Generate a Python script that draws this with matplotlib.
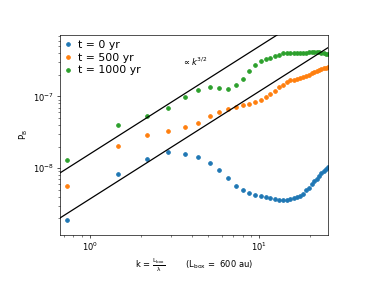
import numpy as np
import matplotlib
matplotlib.use("Agg")
import matplotlib.pyplot as plt

# wavenumber k = Lbox / lambda, one point per mode
n_modes = np.arange(1, 36)
k = 0.728 * n_modes

# magnetic power spectrum at three times
pb_0 = [1.9e-9, 8.4e-9, 1.36e-8, 1.67e-8, 1.60e-8, 1.41e-8, 1.19e-8, 9.3e-9, 7.3e-9, 5.7e-9,
        4.9e-9, 4.5e-9, 4.22e-9, 4.12e-9, 3.99e-9, 3.78e-9, 3.71e-9, 3.62e-9, 3.62e-9, 3.62e-9,
        3.71e-9, 3.83e-9, 3.99e-9, 4.16e-9, 4.43e-9, 4.89e-9, 5.33e-9, 5.93e-9, 6.53e-9, 7.12e-9,
        7.83e-9, 8.53e-9, 9.2e-9, 9.8e-9, 1.05e-8]
pb_500 = [5.6e-9, 2.07e-8, 2.86e-8, 3.25e-8, 3.74e-8, 4.25e-8, 5.32e-8, 6.1e-8, 6.73e-8, 7.18e-8,
          7.5e-8, 7.83e-8, 8.35e-8, 8.9e-8, 9.8e-8, 1.08e-7, 1.21e-7, 1.34e-7, 1.46e-7, 1.57e-7,
          1.67e-7, 1.72e-7, 1.76e-7, 1.80e-7, 1.86e-7, 1.93e-7, 2.0e-7, 2.1e-7, 2.2e-7, 2.28e-7,
          2.35e-7, 2.42e-7, 2.47e-7, 2.52e-7, 2.57e-7]
pb_1000 = [1.31e-8, 3.95e-8, 5.38e-8, 6.8e-8, 9.7e-8, 1.23e-7, 1.34e-7, 1.32e-7, 1.26e-7, 1.46e-7,
           1.78e-7, 2.28e-7, 2.75e-7, 3.12e-7, 3.38e-7, 3.46e-7, 3.61e-7, 3.78e-7, 4.03e-7, 4.07e-7,
           4.07e-7, 4.03e-7, 4.05e-7, 4.07e-7, 4.08e-7, 4.1e-7, 4.12e-7, 4.14e-7, 4.16e-7, 4.16e-7,
           4.15e-7, 4.1e-7, 4.02e-7, 3.96e-7, 3.9e-7]

# k^(3/2) reference lines
amp_up = 1.58e-8
amp_low = 3.72e-9

fig = plt.figure(figsize=(6.4, 4.8), dpi=60)
ax = fig.add_axes([0.156, 0.184, 0.698, 0.696])

ax.plot(k, pb_0, '.', ms=9, label="t = 0 yr")
ax.plot(k, pb_500, '.', ms=9, label="t = 500 yr")
ax.plot(k, pb_1000, '.', ms=9, label="t = 1000 yr")

kk = np.array([0.5, 30.0])
ax.plot(kk, amp_up * kk**1.5, 'k-', lw=1.5)
ax.plot(kk, amp_low * kk**1.5, 'k-', lw=1.5)

ax.text(3.5, 3.0e-7, r'$\propto k^{3/2}$', fontsize=10, va='center')

ax.set_xscale('log')
ax.set_yscale('log')
ax.set_xlim(0.665, k[-1])
ax.set_ylim(1.17e-9, 7.3e-7)

ax.set_xlabel(r'k = $\frac{\rm L_{box}}{\lambda}$        (L$_{\rm box}$ =  600 au)')
ax.set_ylabel(r'P$_{\rm B}$')
ax.legend(loc='upper left', frameon=False, fontsize=13, borderaxespad=0.1,
          handlelength=0.5, handletextpad=0.7, labelspacing=0.25)

fig.savefig('out.png', dpi=60)
